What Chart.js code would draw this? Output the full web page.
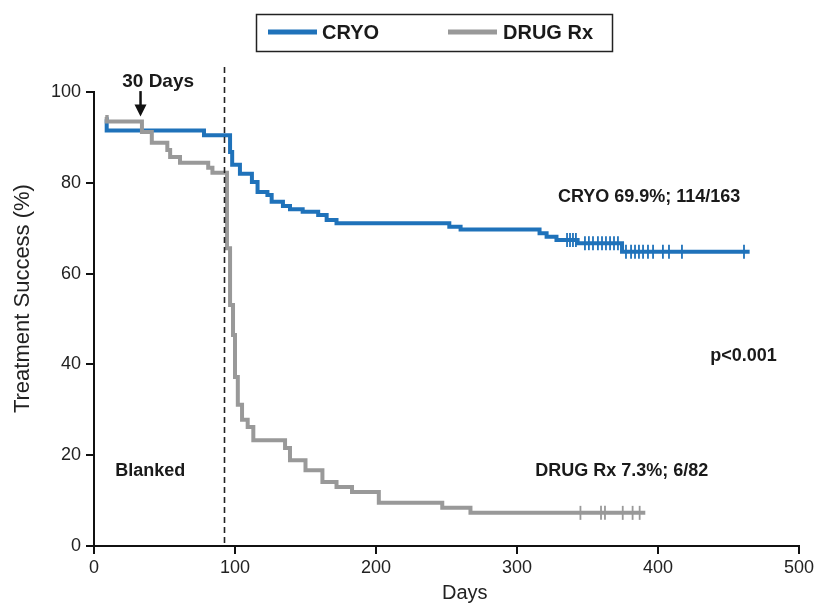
<!DOCTYPE html>
<html>
<head>
<meta charset="utf-8">
<script src="https://cdn.jsdelivr.net/npm/chart.js@4.4.1/dist/chart.umd.min.js"></script>
<style>
    body { margin: 0; background: #fff; }
    canvas { display: block; }
</style>
</head>
<body>
<canvas id="kmChart" width="817" height="605"></canvas>
<script>
// dati (giorni, % successo)
const cryoDays = [8, 9, 78, 96.5, 98, 103.5, 112, 116, 123, 126, 134, 139, 148, 159, 165, 172, 252, 260, 316, 321, 328, 343, 374.5, 465];
const cryoSuccess = [94, 91.5, 90.5, 86.8, 84, 82, 80.2, 78, 77.3, 75.8, 74.9, 74.2, 73.6, 72.9, 71.8, 71.1, 70.3, 69.7, 68.9, 68.1, 67.4, 66.7, 64.8, 64.8];
const cryoCensored = [335.5, 337.6, 339.7, 341.8, 348.2, 351, 353.9, 357.4, 360.3, 363.1, 366, 368.8, 371.6, 377.3, 380.9, 383.7, 386.5, 389.4, 392.9, 396.5, 403.5, 407.8, 417, 461];

const drugDays = [8, 9, 34, 41, 52, 54, 61, 81, 84, 94.3, 96.5, 98.6, 100, 102, 105, 109, 113, 135.5, 139, 150, 162, 172, 183, 202, 247, 267, 391];
const drugSuccess = [94.5, 93.5, 91.2, 88.8, 87.2, 85.7, 84.4, 83.3, 82.2, 65.6, 53.1, 46.5, 37.2, 31.1, 27.8, 26.2, 23.3, 21.6, 18.9, 16.7, 14.1, 13, 11.9, 9.5, 8.4, 7.3, 7.3];
const drugCensored = [345, 359.6, 362.4, 375, 382, 387];

const xTicks = [0, 100, 200, 300, 400, 500];
const yTicks = [0, 20, 40, 60, 80, 100];

const seriesNames = ['CRYO', 'DRUG Rx'];
const blankedDays = 92;
const arrowDay = 33;

const BLUE = 'rgb(31, 114, 186)';
const GREY = 'rgb(153, 153, 153)';
const FONT = '"Liberation Sans", Arial, Helvetica, sans-serif';

// valore della curva a gradini in un certo giorno
function stepValueAt(days, values, d) {
    let v = values[0];
    for (let i = 0; i < days.length; i++) {
        if (days[i] <= d) v = values[i];
    }
    return v;
}

const toPoints = (days, values) => days.map((d, i) => ({ x: d, y: values[i] }));
const censorPoints = (cens, days, values) => cens.map(d => ({ x: d, y: stepValueAt(days, values, d) }));

// annotazioni, titoli assi, legenda con bordo, linea tratteggiata
const annotations = {
    id: 'annotations',
    afterDatasetsDraw(chart) {
        const ctx = chart.ctx;
        const x = chart.scales.x;
        const y = chart.scales.y;
        ctx.save();

        // linea blanking
        const bx = Math.round(x.getPixelForValue(blankedDays)) + 0.5;
        ctx.strokeStyle = '#222';
        ctx.lineWidth = 1.6;
        ctx.setLineDash([6, 4]);
        ctx.beginPath();
        ctx.moveTo(bx, y.getPixelForValue(105.5));
        ctx.lineTo(bx, y.getPixelForValue(0.6));
        ctx.stroke();
        ctx.setLineDash([]);

        // freccia 30 giorni
        const ax = x.getPixelForValue(arrowDay);
        ctx.strokeStyle = '#111';
        ctx.fillStyle = '#111';
        ctx.lineWidth = 2.5;
        ctx.beginPath();
        ctx.moveTo(ax, y.getPixelForValue(100.2));
        ctx.lineTo(ax, y.getPixelForValue(96));
        ctx.stroke();
        const tipY = y.getPixelForValue(94.6);
        ctx.beginPath();
        ctx.moveTo(ax - 6, tipY - 12);
        ctx.lineTo(ax + 6, tipY - 12);
        ctx.lineTo(ax, tipY);
        ctx.closePath();
        ctx.fill();

        // testi
        ctx.fillStyle = '#1a1a1a';
        ctx.textBaseline = 'middle';
        ctx.textAlign = 'center';
        ctx.font = 'bold 19px ' + FONT;
        ctx.fillText('30 Days', x.getPixelForValue(45.5), y.getPixelForValue(102.2));
        ctx.textAlign = 'left';
        ctx.font = 'bold 18px ' + FONT;
        ctx.fillText('CRYO 69.9%; 114/163', x.getPixelForValue(329), y.getPixelForValue(76.9));
        ctx.fillText('p<0.001', x.getPixelForValue(437), y.getPixelForValue(41.9));
        ctx.fillText('DRUG Rx 7.3%; 6/82', x.getPixelForValue(313), y.getPixelForValue(16.6));
        ctx.fillText('Blanked', x.getPixelForValue(15), y.getPixelForValue(16.6));

        // titoli assi
        ctx.fillStyle = '#222';
        ctx.textAlign = 'center';
        ctx.font = '20px ' + FONT;
        ctx.fillText('Days', x.getPixelForValue(263), 593);
        ctx.save();
        ctx.translate(23, y.getPixelForValue(54.5));
        ctx.rotate(-Math.PI / 2);
        ctx.font = '22px ' + FONT;
        ctx.fillText('Treatment Success (%)', 0, 0);
        ctx.restore();

        // legenda
        ctx.textAlign = 'left';
        ctx.strokeStyle = '#222';
        ctx.lineWidth = 1.5;
        ctx.strokeRect(256.5, 14.5, 356, 37);
        ctx.lineWidth = 5;
        ctx.strokeStyle = BLUE;
        ctx.beginPath();
        ctx.moveTo(268, 32);
        ctx.lineTo(317, 32);
        ctx.stroke();
        ctx.strokeStyle = GREY;
        ctx.beginPath();
        ctx.moveTo(448, 32);
        ctx.lineTo(497, 32);
        ctx.stroke();
        ctx.font = 'bold 20px ' + FONT;
        ctx.fillStyle = '#1a1a1a';
        ctx.fillText(seriesNames[0], 322, 33);
        ctx.fillText(seriesNames[1], 503, 33);

        ctx.restore();
    }
};

new Chart(document.getElementById('kmChart'), {
    type: 'line',
    data: {
        datasets: [
            {
                label: seriesNames[1],
                data: toPoints(drugDays, drugSuccess),
                borderColor: GREY,
                borderWidth: 4,
                stepped: true,
                pointRadius: 0,
                fill: false
            },
            {
                label: seriesNames[0],
                data: toPoints(cryoDays, cryoSuccess),
                borderColor: BLUE,
                borderWidth: 4,
                stepped: true,
                pointRadius: 0,
                fill: false
            },
            {
                type: 'scatter',
                label: 'drugCensored',
                data: censorPoints(drugCensored, drugDays, drugSuccess),
                pointStyle: 'line',
                rotation: 90,
                pointRadius: 7,
                borderColor: GREY,
                borderWidth: 1.8
            },
            {
                type: 'scatter',
                label: 'cryoCensored',
                data: censorPoints(cryoCensored, cryoDays, cryoSuccess),
                pointStyle: 'line',
                rotation: 90,
                pointRadius: 7,
                borderColor: BLUE,
                borderWidth: 1.8
            }
        ]
    },
    options: {
        responsive: false,
        animation: false,
        layout: {
            padding: { left: 0, right: 18, top: 92, bottom: 0 }
        },
        plugins: {
            legend: { display: false },
            tooltip: { enabled: false }
        },
        scales: {
            x: {
                type: 'linear',
                min: 0,
                max: 500,
                afterBuildTicks: s => { s.ticks = xTicks.map(v => ({ value: v })); },
                afterFit: s => { s.height = 59; },
                grid: {
                    drawOnChartArea: false,
                    drawTicks: true,
                    tickLength: 8,
                    color: '#111',
                    lineWidth: 2
                },
                border: { display: true, color: '#111', width: 2 },
                ticks: {
                    color: '#222',
                    padding: 3,
                    maxRotation: 0,
                    font: { family: FONT, size: 18 }
                },
                title: { display: false }
            },
            y: {
                type: 'linear',
                min: 0,
                max: 100,
                afterBuildTicks: s => { s.ticks = yTicks.map(v => ({ value: v })); },
                afterFit: s => { s.width = 94; },
                grid: {
                    drawOnChartArea: false,
                    drawTicks: true,
                    tickLength: 8,
                    color: '#111',
                    lineWidth: 2
                },
                border: { display: true, color: '#111', width: 2 },
                ticks: {
                    color: '#222',
                    padding: 5,
                    font: { family: FONT, size: 18 }
                },
                title: { display: false }
            }
        }
    },
    plugins: [annotations]
});
</script>
</body>
</html>
